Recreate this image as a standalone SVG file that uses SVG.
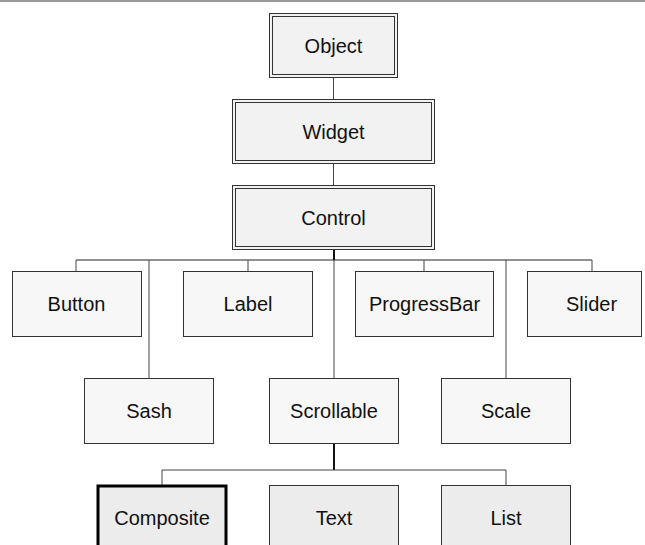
<svg xmlns="http://www.w3.org/2000/svg" width="645" height="545" viewBox="0 0 645 545">
<style>
.t{font-family:"Liberation Sans",Arial,sans-serif;font-size:20px;fill:#111;text-anchor:middle}
.b{fill:#f7f7f7;stroke:#333;stroke-width:1}
.d{fill:#f2f2f2;stroke:#333;stroke-width:1}
.c{fill:none;stroke:#444;stroke-width:1}
.h{fill:none;stroke:#222;stroke-width:1.2}
.k{fill:none;stroke:#111;stroke-width:2}
.l{fill:#ececec;stroke:#333;stroke-width:1}
</style>
<rect x="0" y="0" width="645" height="545" fill="#fff"/>
<line x1="0" y1="1" x2="645" y2="1" stroke="#999" stroke-width="2"/>
<g id="connectors">
<path class="c" d="M333.5 78V99M333.5 163V185"/>
<path class="k" d="M334 249V260"/>
<path class="h" d="M76 260H592"/>
<path class="c" d="M76 260V271M149 260V378M248 260V271M334 260V378M424 260V271M506 260V378M592 260V271"/>
<path class="k" d="M334 443V470"/>
<path class="c" d="M162 470H506M162 470V485M506 470V486"/>
</g>
<g id="Object">
<rect class="d" x="269.5" y="13.5" width="128" height="64" fill="#efefef"/>
<rect x="272.5" y="16.5" width="122" height="58" fill="none" stroke="#333"/>
<text class="t" x="333.5" y="52.5">Object</text>
</g>
<g id="Widget">
<rect class="d" x="232.5" y="99.5" width="202" height="64"/>
<rect x="235.5" y="102.5" width="196" height="58" fill="none" stroke="#333"/>
<text class="t" x="333.5" y="138.5">Widget</text>
</g>
<g id="Control">
<rect class="d" x="232.5" y="185.5" width="202" height="64"/>
<rect x="235.5" y="188.5" width="196" height="58" fill="none" stroke="#333"/>
<text class="t" x="333.5" y="224.5">Control</text>
</g>
<g id="Button"><rect class="b" x="12.5" y="271.5" width="129" height="65"/><text class="t" x="76.5" y="311">Button</text></g>
<g id="Label"><rect class="b" x="183.5" y="271.5" width="129" height="65"/><text class="t" x="248" y="311">Label</text></g>
<g id="ProgressBar"><rect class="b" x="355.5" y="271.5" width="138" height="65"/><text class="t" x="424.5" y="311">ProgressBar</text></g>
<g id="Slider"><rect class="b" x="527.5" y="271.5" width="114" height="65"/><text class="t" x="591.5" y="311">Slider</text></g>
<g id="Sash"><rect class="b" x="84.5" y="378.5" width="129" height="65"/><text class="t" x="149" y="418">Sash</text></g>
<g id="Scrollable"><rect class="b" x="269.5" y="378.5" width="129" height="65"/><text class="t" x="334" y="418">Scrollable</text></g>
<g id="Scale"><rect class="b" x="441.5" y="378.5" width="129" height="65"/><text class="t" x="506" y="418">Scale</text></g>
<g id="Composite"><rect x="98" y="486" width="128" height="70" fill="#ececec" stroke="#000" stroke-width="3"/><text class="t" x="162" y="525">Composite</text></g>
<g id="Text"><rect class="l" x="269.5" y="485.5" width="129" height="70"/><text class="t" x="334" y="525">Text</text></g>
<g id="List"><rect class="l" x="441.5" y="485.5" width="129" height="70"/><text class="t" x="506" y="525">List</text></g>
</svg>
